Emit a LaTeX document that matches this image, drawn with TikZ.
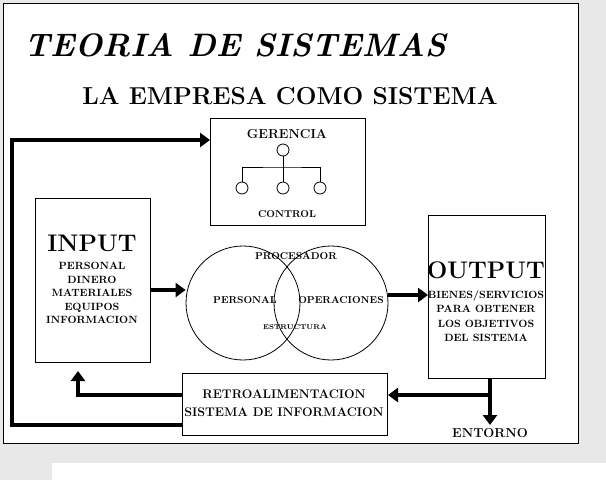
\documentclass[tikz,border=0pt]{standalone}
\usepackage{tikz}
\usetikzlibrary{arrows.meta,positioning}
\begin{document}
\begin{tikzpicture}[x=1pt,y=-1pt,
  box/.style={draw,line width=1pt,fill=white},
  thick arrow/.style={line width=3.5pt,-{Triangle[length=10pt,width=14pt]}},
  lbl/.style={font=\bfseries\fontsize{10}{11}\selectfont,align=center,inner sep=0pt},
  big/.style={font=\bfseries\fontsize{24}{26}\selectfont,inner sep=0pt},
  small/.style={draw,circle,minimum size=12pt,inner sep=0pt,line width=0.8pt}
]
\useasboundingbox (0,0) rectangle (606,480);
\fill[gray!18] (0,0) rectangle (606,480);
\fill[white] (52,463) rectangle (606,480);
\node[box,line width=1.2pt,minimum width=575pt,minimum height=440pt,anchor=north west] (frame) at (3,3) {};
\node[font=\bfseries\itshape\fontsize{32.5}{34}\selectfont,anchor=west,inner sep=0pt] (title) at (24,45) {TEORIA DE SISTEMAS};
\node[font=\bfseries\fontsize{24.5}{26}\selectfont,inner sep=0pt] (sub) at (290,96) {LA EMPRESA COMO SISTEMA};
% boxes
\node[box,minimum width=155pt,minimum height=107pt,anchor=north west] (ger) at (210,118) {};
\node[font=\bfseries\fontsize{13}{14}\selectfont,inner sep=0pt] (gt) at (287,134) {GERENCIA};
\node[lbl] (ct) at (287,214) {CONTROL};
\node[small] (g0) at (283,150) {};
\node[small] (g1) at (242,188) {};
\node[small] (g2) at (283,188) {};
\node[small] (g3) at (320,188) {};
\coordinate (gm) at (283,167);
\draw[line width=0.8pt] (g0) -- (g2) (g1) |- (gm) -| (g3);
\node[box,minimum width=115pt,minimum height=164pt,anchor=north west] (inp) at (35,198) {};
\node[big] (it) at (92,243) {INPUT};
\node[lbl,font=\bfseries\fontsize{10.5}{13.5}\selectfont] (itx) at (92,293) {PERSONAL\\DINERO\\MATERIALES\\EQUIPOS\\INFORMACION};
\node[box,minimum width=117pt,minimum height=163pt,anchor=north west] (out) at (428,215) {};
\node[big] (ot) at (486,270) {OUTPUT};
\node[lbl,font=\bfseries\fontsize{10.5}{13.5}\selectfont] (otx) at (486,316) {BIENES/SERVICIOS\\PARA OBTENER\\[2pt]LOS OBJETIVOS\\DEL SISTEMA};
% procesador
\node[draw,circle,minimum size=114pt,line width=0.8pt] (cl) at (243,303) {};
\node[draw,circle,minimum size=114pt,line width=0.8pt] (cr) at (331,303) {};
\node[lbl] (pt) at (296,256) {PROCESADOR};
\node[lbl] (pp) at (245,300) {PERSONAL};
\node[lbl] (po) at (341,300) {OPERACIONES};
\node[font=\bfseries\fontsize{7}{8}\selectfont,inner sep=0pt] (pe) at (295,327) {ESTRUCTURA};
% retro
\node[box,minimum width=205pt,minimum height=62pt,anchor=north west] (ret) at (182,373) {};
\node[font=\bfseries\fontsize{12.5}{18}\selectfont,align=center] (rt) at (284,403) {RETROALIMENTACION\\SISTEMA DE INFORMACION};
\node[font=\bfseries\fontsize{13}{14}\selectfont,inner sep=0pt] (ent) at (490,433) {ENTORNO};
% connectors
\coordinate (ob) at (490,395);
\draw[thick arrow] (inp.east |- 0,290) -- (cl.west |- 0,290);
\draw[thick arrow] (cr.east |- 0,295) -- (out.west |- 0,295);
\draw[thick arrow] (out.south -| ob) -- (490,425);
\draw[thick arrow] (ob) -- (ret.east |- ob);
\draw[thick arrow] (ret.west |- 0,395) -| (78,371);
\draw[thick arrow] (ret.west |- 0,425) -| (12,140) -- (ger.west |- 0,140);
\end{tikzpicture}
\end{document}
